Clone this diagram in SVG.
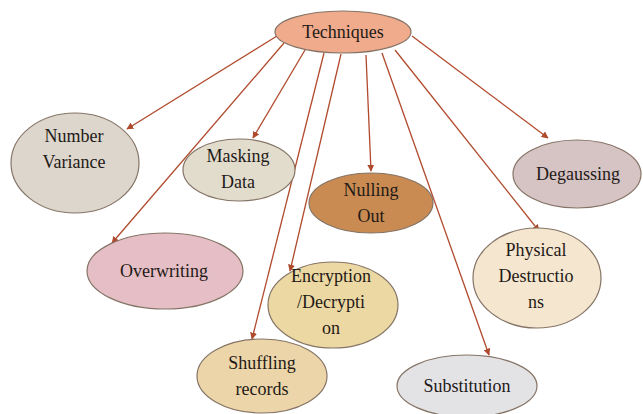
<svg xmlns="http://www.w3.org/2000/svg" width="643" height="414" viewBox="0 0 643 414">
  <style>
    .node { stroke: #857466; stroke-width: 1.2; }
    .lbl { font-family: "Liberation Serif", "Times New Roman", serif; font-size: 18px; fill: #1f1a17; text-anchor: middle; }
    .edge { stroke: #b04a2c; stroke-width: 1.3; fill: none; marker-end: url(#arrow); }
  </style>
  <defs>
    <marker id="arrow" viewBox="0 0 10 10" refX="9" refY="5" markerWidth="7" markerHeight="7" orient="auto" markerUnits="userSpaceOnUse">
      <path d="M0,0 L10,5 L0,10 z" fill="#b04a2c"/>
    </marker>
  </defs>
  <rect width="643" height="414" fill="#ffffff"/>

  <g id="connectors">
    <line class="edge" x1="277" y1="36" x2="127" y2="129"/>
    <line class="edge" x1="284" y1="43" x2="112" y2="243"/>
    <line class="edge" x1="305" y1="50" x2="253" y2="138"/>
    <line class="edge" x1="324" y1="53" x2="252" y2="339"/>
    <line class="edge" x1="341" y1="54" x2="290" y2="271"/>
    <line class="edge" x1="366" y1="55" x2="371" y2="171"/>
    <line class="edge" x1="382" y1="53" x2="489" y2="355"/>
    <line class="edge" x1="395" y1="50" x2="539" y2="231"/>
    <line class="edge" x1="412" y1="36" x2="548" y2="138"/>
  </g>

  <g id="techniques">
    <ellipse class="node" cx="343" cy="32" rx="68" ry="21" fill="#f0aa8c"/>
    <text class="lbl" x="343" y="38">Techniques</text>
  </g>

  <g id="number-variance">
    <ellipse class="node" cx="75" cy="163" rx="64" ry="50" fill="#ddd6cc"/>
    <text class="lbl" x="74" y="142">Number</text>
    <text class="lbl" x="74" y="168">Variance</text>
  </g>

  <g id="masking-data">
    <ellipse class="node" cx="239" cy="170" rx="56" ry="31" fill="#e2dccd"/>
    <text class="lbl" x="238" y="162">Masking</text>
    <text class="lbl" x="238" y="188">Data</text>
  </g>

  <g id="nulling-out">
    <ellipse class="node" cx="371" cy="203" rx="62" ry="30" fill="#c98b52"/>
    <text class="lbl" x="371" y="196">Nulling</text>
    <text class="lbl" x="371" y="222">Out</text>
  </g>

  <g id="degaussing">
    <ellipse class="node" cx="577" cy="174" rx="64" ry="34" fill="#d6c3c3"/>
    <text class="lbl" x="578" y="180">Degaussing</text>
  </g>

  <g id="overwriting">
    <ellipse class="node" cx="165" cy="271" rx="78" ry="38" fill="#e6bfc6"/>
    <text class="lbl" x="164" y="277">Overwriting</text>
  </g>

  <g id="encryption-decryption">
    <ellipse class="node" cx="333" cy="305" rx="65" ry="43" fill="#ecd8a2"/>
    <text class="lbl" x="331" y="282">Encryption</text>
    <text class="lbl" x="331" y="308">/Decrypti</text>
    <text class="lbl" x="331" y="334">on</text>
  </g>

  <g id="shuffling-records">
    <ellipse class="node" cx="262" cy="376" rx="65" ry="37" fill="#ecd5a8"/>
    <text class="lbl" x="262" y="369">Shuffling</text>
    <text class="lbl" x="262" y="395">records</text>
  </g>

  <g id="substitution">
    <ellipse class="node" cx="467" cy="386" rx="70" ry="31" fill="#e3e3e6"/>
    <text class="lbl" x="467" y="392">Substitution</text>
  </g>

  <g id="physical-destructions">
    <ellipse class="node" cx="537" cy="278" rx="64" ry="50" fill="#f5e6cf"/>
    <text class="lbl" x="536" y="256">Physical</text>
    <text class="lbl" x="536" y="282">Destructio</text>
    <text class="lbl" x="536" y="308">ns</text>
  </g>
</svg>
